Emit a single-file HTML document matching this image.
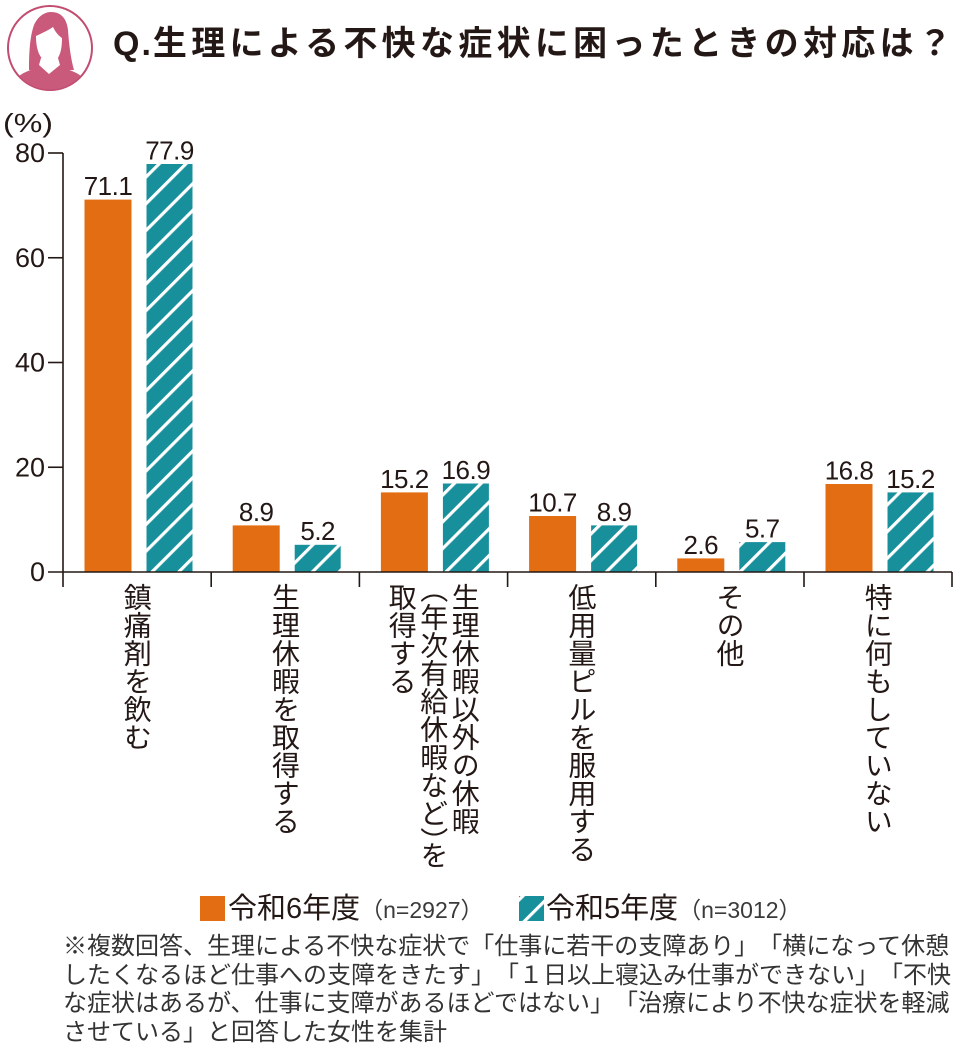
<!DOCTYPE html>
<html>
<head>
<meta charset="utf-8">
<style>
  html,body{margin:0;padding:0;background:#fff;}
  body{width:960px;height:1053px;position:relative;overflow:hidden;
       font-family:"Liberation Sans","Noto Sans CJK JP",sans-serif;color:#231815;
       text-spacing-trim:space-all;}
  .abs{position:absolute;}
  .vlab{position:absolute;top:583px;writing-mode:vertical-rl;font-size:28px;line-height:31.5px;
        font-family:"Noto Sans CJK JP",sans-serif;color:#231815;white-space:nowrap;height:330px;
        text-spacing-trim:space-all;}
  .foot{position:absolute;left:63px;font-size:24px;line-height:24px;white-space:nowrap;
        font-family:"Liberation Sans","Noto Sans CJK JP",sans-serif;color:#333;text-spacing-trim:space-all;}
  .leg{position:absolute;top:895px;font-size:29px;line-height:29px;white-space:nowrap;color:#231815;text-spacing-trim:space-all;}
  .leg span{font-size:23px;color:#3a3a3a;}
</style>
</head>
<body>

<!-- Icon -->
<svg class="abs" style="left:0;top:0" width="100" height="95" viewBox="0 0 100 95">
  <defs><clipPath id="cc"><circle cx="50" cy="48" r="41.5"/></clipPath></defs>
  <circle cx="50" cy="48" r="42" fill="#fff" stroke="#c24d70" stroke-width="2"/>
  <g clip-path="url(#cc)" fill="#c95a7c">
    <path d="M29,70 C29,52 30,36 34,25 C38,16 45,12 51,12 C62,12 67,20 68,30 C69,45 71,60 74,70 Z"/>
    <path d="M8,95 C11,80 20,72 38,68 L62,68 C80,72 89,80 92,95 Z"/>
  </g>
  <path d="M36,36 C40,34 47,31 53,27 C56,33 59,36 62,38 C62,52 59,61 50,64 C41,61 36,52 36,36 Z" fill="#fff"/>
  <polygon points="41,58 58,58 60,65 49,74 39,65" fill="#fff"/>
</svg>

<!-- Title -->
<div class="abs" style="left:113px;top:27px;font-size:34px;line-height:34px;font-weight:bold;letter-spacing:4.3px;white-space:nowrap;color:#231815;"><span style="letter-spacing:2px">Q.</span>生理による不快な症状に困ったときの対応は？</div>

<!-- Chart -->
<svg class="abs" style="left:0;top:0" width="960" height="1053">
  <defs>
    <pattern id="h" patternUnits="userSpaceOnUse" width="18.9" height="18.9" patternTransform="rotate(45)">
      <rect width="18.9" height="18.9" fill="#18909c"/>
      <rect x="0" y="0" width="3.2" height="18.9" fill="#fff"/>
    </pattern>
  </defs>

  <!-- (%) -->
  <text x="3" y="132" font-size="26" textLength="50" lengthAdjust="spacingAndGlyphs" fill="#231815" font-family="Liberation Sans">(%)</text>

  <!-- y tick labels -->
  <g font-family="Liberation Sans" font-size="27" fill="#231815" text-anchor="end">
    <text x="45" y="162">80</text>
    <text x="45" y="266.75">60</text>
    <text x="45" y="371.5">40</text>
    <text x="45" y="476.25">20</text>
    <text x="45" y="581">0</text>
  </g>

  <!-- bars -->
  <g>
    <rect x="84.5" y="199.6" width="47" height="372.4" fill="#e26d12"/>
    <rect x="146.5" y="164" width="46" height="408" fill="url(#h)"/>
    <rect x="232.7" y="525.4" width="47" height="46.6" fill="#e26d12"/>
    <rect x="294.7" y="544.8" width="46" height="27.2" fill="url(#h)"/>
    <rect x="380.9" y="492.4" width="47" height="79.6" fill="#e26d12"/>
    <rect x="442.9" y="483.5" width="46" height="88.5" fill="url(#h)"/>
    <rect x="529.1" y="516" width="47" height="56" fill="#e26d12"/>
    <rect x="591.1" y="525.4" width="46" height="46.6" fill="url(#h)"/>
    <rect x="677.3" y="558.4" width="47" height="13.6" fill="#e26d12"/>
    <rect x="739.3" y="542.1" width="46" height="29.9" fill="url(#h)"/>
    <rect x="825.5" y="484" width="47" height="88" fill="#e26d12"/>
    <rect x="887.5" y="492.4" width="46" height="79.6" fill="url(#h)"/>
  </g>

  <!-- value labels -->
  <g font-family="Liberation Sans" font-size="26" fill="#231815" text-anchor="middle" letter-spacing="-0.5">
    <text x="108" y="195">71.1</text>
    <text x="169.5" y="159.4">77.9</text>
    <text x="256.2" y="520.8">8.9</text>
    <text x="317.7" y="540.2">5.2</text>
    <text x="404.4" y="487.8">15.2</text>
    <text x="465.9" y="478.9">16.9</text>
    <text x="552.6" y="511.4">10.7</text>
    <text x="614.1" y="520.8">8.9</text>
    <text x="700.8" y="553.8">2.6</text>
    <text x="762.3" y="537.5">5.7</text>
    <text x="849" y="479.4">16.8</text>
    <text x="910.5" y="487.8">15.2</text>
  </g>

  <!-- axes -->
  <g stroke="#231815" stroke-width="1.6" fill="none">
    <line x1="63" y1="153" x2="63" y2="587"/>
    <line x1="48" y1="153" x2="63" y2="153"/>
    <line x1="48" y1="257.75" x2="63" y2="257.75"/>
    <line x1="48" y1="362.5" x2="63" y2="362.5"/>
    <line x1="48" y1="467.25" x2="63" y2="467.25"/>
    <line x1="48" y1="572" x2="952" y2="572"/>
    <line x1="211.2" y1="572" x2="211.2" y2="587"/>
    <line x1="359.4" y1="572" x2="359.4" y2="587"/>
    <line x1="507.6" y1="572" x2="507.6" y2="587"/>
    <line x1="655.8" y1="572" x2="655.8" y2="587"/>
    <line x1="804" y1="572" x2="804" y2="587"/>
    <line x1="952" y1="572" x2="952" y2="587"/>
  </g>

  <!-- legend squares -->
  <rect x="200" y="896" width="25" height="25" fill="#e26d12"/>
  <rect x="519" y="896" width="25" height="25" fill="url(#h)"/>
</svg>

<!-- category labels (vertical) -->
<div class="vlab" style="left:121.25px;width:31.5px;">鎮痛剤を飲む</div>
<div class="vlab" style="left:269.45px;width:31.5px;">生理休暇を取得する</div>
<div class="vlab" style="left:386.25px;width:94.5px;">生理休暇以外の休暇<br><span style="margin-inline-start:-8px">︵</span>年次有給休暇など<span style="margin-inline-end:-14px">︶</span>を<br>取得する</div>
<div class="vlab" style="left:565.85px;width:31.5px;">低用量ピルを服用する</div>
<div class="vlab" style="left:714.05px;width:31.5px;">その他</div>
<div class="vlab" style="left:862.25px;width:31.5px;">特に何もしていない</div>

<!-- legend -->
<div class="leg" style="left:228px;">令和6年度<span>（n=2927）</span></div>
<div class="leg" style="left:546px;">令和5年度<span>（n=3012）</span></div>

<!-- footnote -->
<div class="foot" style="top:935px;">※複数回答、生理による不快な症状で「仕事に若干の支障あり」「横になって休憩</div>
<div class="foot" style="top:963.7px;">したくなるほど仕事への支障をきたす」「１日以上寝込み仕事ができない」「不快</div>
<div class="foot" style="top:992.4px;">な症状はあるが、仕事に支障があるほどではない」「治療により不快な症状を軽減</div>
<div class="foot" style="top:1021px;">させている」と回答した女性を集計</div>

</body>
</html>
